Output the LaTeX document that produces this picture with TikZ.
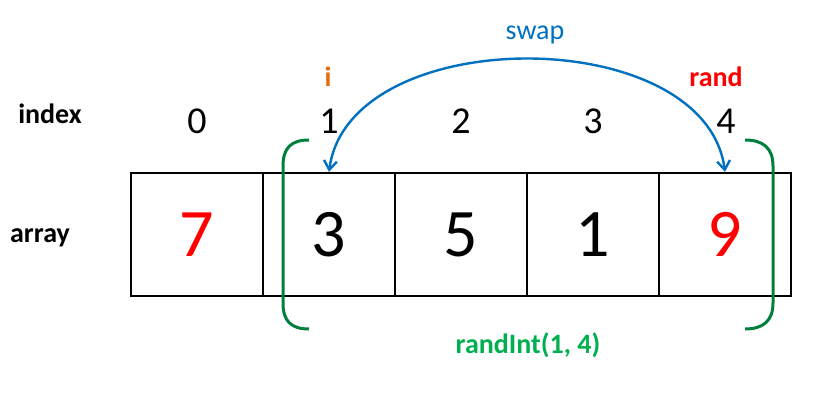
\documentclass[tikz,border=0pt]{standalone}
\usepackage{fontspec}
\setmainfont{Carlito}
\usetikzlibrary{arrows.meta}
\definecolor{swapblue}{RGB}{0,112,192}
\definecolor{iorange}{RGB}{228,108,10}
\definecolor{brgreen}{RGB}{0,128,60}
\definecolor{txtgreen}{RGB}{0,176,80}
\tikzset{
  cellbox/.style={draw=black, line width=2.4pt, minimum width=132pt, minimum height=123pt, inner sep=0pt, font=\fontsize{68}{72}\selectfont},
  idxnum/.style={anchor=base, font=\fontsize{38}{40}\selectfont},
  lbl/.style={anchor=base, font=\bfseries\fontsize{28}{30}\selectfont},
  swaparrow/.style={draw=swapblue, line width=2.4pt, {Straight Barb[length=9pt,width=13pt]}-{Straight Barb[length=9pt,width=13pt]}},
  bracket/.style={draw=brgreen, line width=3pt}
}
\begin{document}
\begin{tikzpicture}[x=1pt,y=-1pt]
\useasboundingbox (0,0) rectangle (819,393);
% cells
\node[cellbox] (c0) at (197,234.5) {\textcolor{red}{7}};
\node[cellbox] (c1) at (329,234.5) {3};
\node[cellbox] (c2) at (461,234.5) {5};
\node[cellbox] (c3) at (593,234.5) {1};
\node[cellbox] (c4) at (725,234.5) {\textcolor{red}{9}};
% row labels
\node[lbl] (lindex) at (50,124) {index};
\node[lbl] (larray) at (40,242) {array};
% index numbers
\node[idxnum] (i0) at (197,134) {0};
\node[idxnum] (i1) at (329,134) {1};
\node[idxnum] (i2) at (461,134) {2};
\node[idxnum] (i3) at (593,134) {3};
\node[idxnum] (i4) at (726,134) {4};
% pointer labels
\node[lbl, text=iorange] (li) at (328,87) {i};
\node[lbl, text=red] (lrand) at (716,87) {rand};
\node[anchor=base, text=swapblue, font=\fontsize{28}{30}\selectfont] (lswap) at (535,40) {swap};
% swap arrow
\path[swaparrow] (c1.north) .. controls +(20,-150) and +(-20,-150) .. (c4.north);
% brackets
\coordinate (bl1) at (309,140);
\coordinate (bl2) at (309,329);
\coordinate (br1) at (745,140);
\coordinate (br2) at (745,329);
\draw[bracket] (bl1) .. controls +(-18,0) and +(0,-18) .. (283,166) -- (283,303) .. controls +(0,18) and +(-18,0) .. (bl2);
\draw[bracket] (br1) .. controls +(18,0) and +(0,-18) .. (773,166) -- (773,303) .. controls +(0,18) and +(18,0) .. (br2);
\node[lbl, text=txtgreen] (lrandint) at (528,353) {randInt(1, 4)};
\end{tikzpicture}
\end{document}
